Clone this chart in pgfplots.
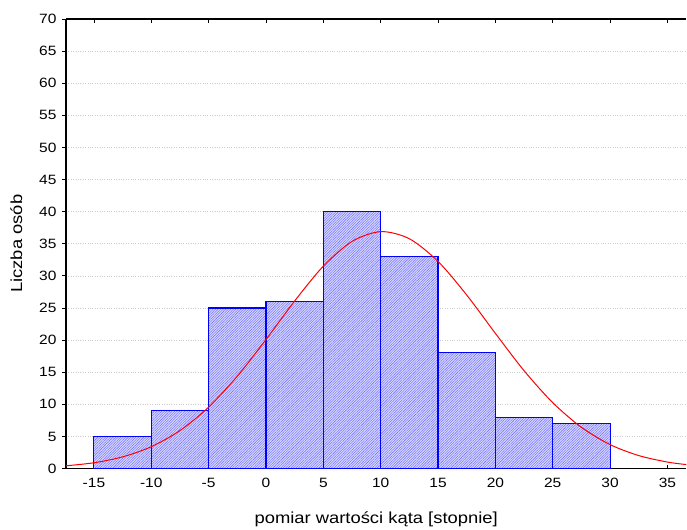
\documentclass[border=0pt]{standalone}
\usepackage{fontspec}
\setmainfont{Liberation Sans}[FakeStretch=1.15]
\usepackage{pgfplots}
\pgfplotsset{compat=1.18}
\usetikzlibrary{patterns.meta}

\begin{document}
\begin{tikzpicture}
\begin{axis}[
  name=ax,
  scale only axis,
  width=621pt, height=450pt,
  xmin=-17.44, xmax=36.65, ymin=0, ymax=70,
  xtick={-15,-10,...,35}, ytick={0,5,...,70},
  axis x line*=box, axis y line*=left,
  xtick align=inside, ytick align=outside,
  major tick length=4pt,
  tick style={black, line width=0.8pt},
  axis line style={black, line width=1.3pt},
  ymajorgrids, grid style={gray!40, dotted, line width=0.7pt},
  tick label style={font=\fontsize{13.5}{15}\selectfont},
  /pgf/number format/assume math mode=true,
  xticklabel style={yshift=-6pt},
  yticklabel style={xshift=-2pt},
  xlabel={pomiar wartości kąta [stopnie]},
  ylabel={Liczba osób},
  label style={font=\fontsize{16}{18}\selectfont},
  xlabel style={yshift=-17pt},
  ylabel style={yshift=10pt},
  clip=false,
]
\addplot[ybar interval, draw=blue, line width=1.1pt, fill=blue!16,
  postaction={pattern={Lines[angle=45,distance=1.8pt,line width=0.38pt]}, pattern color=blue!62}]
  coordinates {(-15,5) (-10,9) (-5,25) (0,26) (5,40) (10,33) (15,18) (20,8) (25,7) (30,7)};
\addplot[red, line width=1pt, smooth]
  coordinates {(-17.44,0.43) (-15,0.90) (-12.5,1.82) (-10,3.40) (-7.5,5.91) (-5,9.56)
    (-2.5,14.38) (0,20.09) (2.5,26.09) (5,31.51) (7.5,35.36) (10,36.89) (12.5,35.78)
    (15,32.25) (17.5,27.02) (20,21.05) (22.5,15.24) (25,10.26) (27.5,6.42)
    (30,3.73) (32.5,2.02) (35,1.01) (36.65,0.62)};
\end{axis}
\useasboundingbox ([xshift=-66pt,yshift=-57pt]ax.south west) rectangle ([yshift=19pt]ax.north east);
\end{tikzpicture}
\end{document}
